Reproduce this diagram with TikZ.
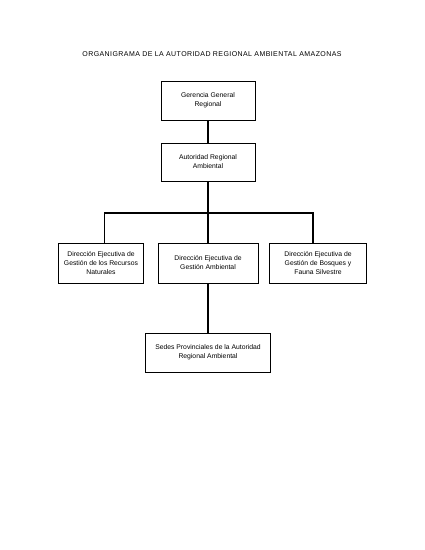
\documentclass[tikz,border=0pt]{standalone}
\usepackage{fontspec}
\setmainfont{Liberation Sans}
\newfontfamily\titlefont[LetterSpace=6]{Liberation Sans}
\usepackage{tikz}
\usetikzlibrary{shapes,arrows,calc}
\tikzstyle{line} = [draw, line width=1.6pt]
\tikzstyle{block} = [draw, line width=0.6pt, rectangle, text centered, align=center, font=\fontsize{6.8}{9}\selectfont, inner sep=1pt]

\begin{document}
\begin{tikzpicture}[node distance=60pt, auto]
        \useasboundingbox (0,0) rectangle (425pt,-550pt);
        \node[font=\titlefont\fontsize{7}{8}\selectfont] (title) at (212pt,-54pt) {ORGANIGRAMA DE LA AUTORIDAD REGIONAL AMBIENTAL AMAZONAS};
        \node[block, minimum width=94pt, minimum height=39pt] (gerencia) at (208pt,-100.5pt) {Gerencia General\\Regional};
        \node[block, below of=gerencia, node distance=61.5pt, minimum width=94pt, minimum height=38pt] (autoridad) {Autoridad Regional\\Ambiental};
        \node[block, below of=autoridad, node distance=101pt, minimum width=100pt, minimum height=40pt] (gestion) {Dirección Ejecutiva de\\Gestión Ambiental};
        \node[block, left of=gestion, node distance=107pt, minimum width=85pt, minimum height=40pt] (recursos) {Dirección Ejecutiva de\\Gestión de los Recursos\\Naturales};
        \node[block, right of=gestion, node distance=110pt, minimum width=97pt, minimum height=40pt] (bosques) {Dirección Ejecutiva de\\Gestión de Bosques y\\Fauna Silvestre};
        \node[block, below of=gestion, node distance=89.5pt, minimum width=125pt, minimum height=39pt] (sedes) {Sedes Provinciales de la Autoridad\\Regional Ambiental};
        \coordinate[below of=autoridad, node distance=51pt] (split);
        \path[line] (gerencia) -- (autoridad);
        \path[line] (autoridad) -- (split);
        \path[line] (split) -| ($(recursos.north)+(3.5pt,0)$);
        \path[line] (split) -| ($(bosques.north)+(-5pt,0)$);
        \path[line] (split) -- (gestion);
        \path[line] (gestion) -- (sedes);
    \end{tikzpicture}
\end{document}
